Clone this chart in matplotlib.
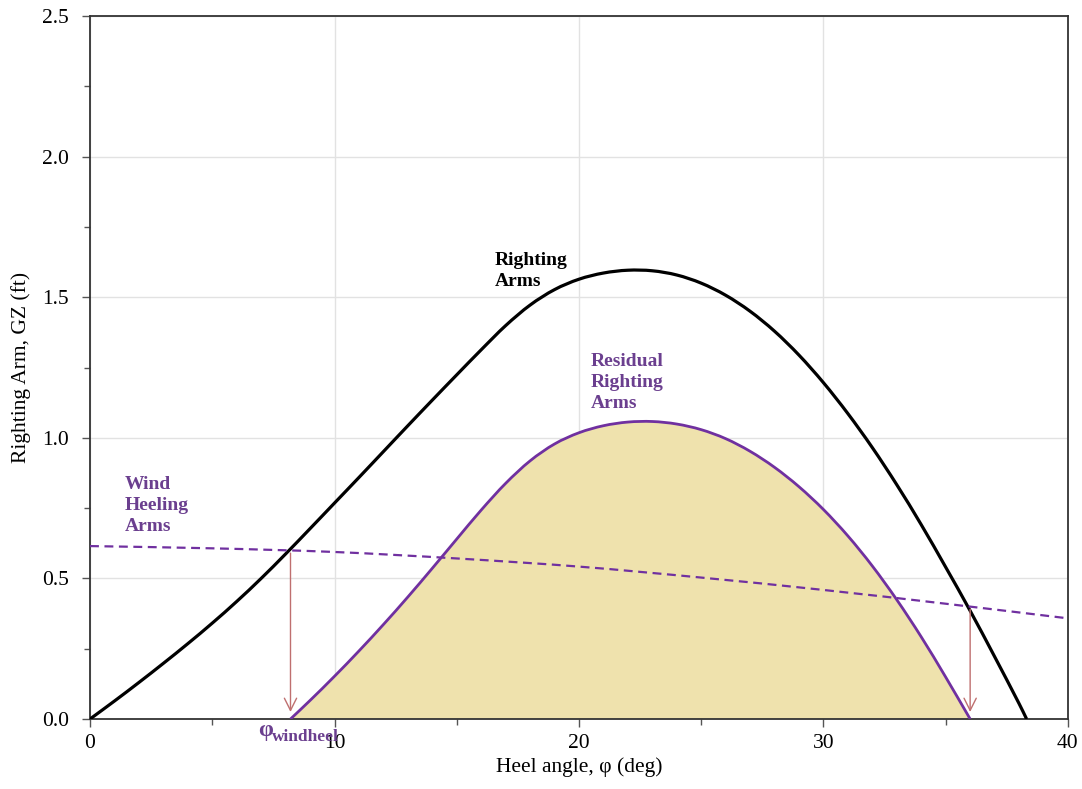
import numpy as np
import matplotlib.pyplot as plt
from matplotlib.path import Path
from matplotlib.patches import PathPatch

# righting arm curve at whole degrees
ra_x = [0, 1, 2, 3, 4, 5, 6, 7, 8, 9, 10, 11, 12, 13, 14, 15, 16, 17, 18, 19, 20,
        21, 22, 23, 24, 25, 26, 27, 28, 29, 30, 31, 32, 33, 34, 35, 36, 37, 38, 38.31]
ra_y = [0, 0.064, 0.130, 0.198, 0.268, 0.341, 0.418, 0.500, 0.587, 0.677, 0.768,
        0.859, 0.951, 1.043, 1.134, 1.224, 1.313, 1.399, 1.472, 1.527, 1.564,
        1.586, 1.596, 1.594, 1.579, 1.550, 1.507, 1.450, 1.379, 1.294, 1.196,
        1.086, 0.965, 0.833, 0.691, 0.540, 0.385, 0.222, 0.055, 0.0]

# wind heeling arm
wh_x = [0, 5, 10, 15, 20, 25, 30, 35, 40]
wh_y = [0.615, 0.607, 0.594, 0.571, 0.542, 0.503, 0.459, 0.410, 0.358]

# residual righting arm
rr_x = [8.2, 9, 10, 11, 12, 13, 14, 15, 16, 17, 18, 19, 20, 21, 22, 23, 24, 25,
        26, 27, 28, 29, 30, 31, 32, 33, 34, 35, 36]
rr_y = [0, 0.066, 0.152, 0.242, 0.336, 0.434, 0.536, 0.640, 0.743, 0.838, 0.918,
        0.978, 1.018, 1.043, 1.056, 1.058, 1.049, 1.029, 0.997, 0.952, 0.895,
        0.826, 0.745, 0.651, 0.544, 0.424, 0.292, 0.149, 0]

# equilibrium angles with arrow from wind line down to the axis
eq_x = [8.2, 36.0]
eq_top = [0.59, 0.39]

purple = '#7030a0'
txt_purple = '#6b3f8f'
plt.rcParams['font.family'] = ['Liberation Serif', 'DejaVu Serif']


def smooth_path(x, y, close=False):
    # smoothed line like the spreadsheet one: cubic segments through the points
    x = np.asarray(x, float)
    y = np.asarray(y, float)
    n = len(x)
    m = np.empty(n)
    m[0] = (y[1] - y[0]) / (x[1] - x[0])
    m[-1] = (y[-1] - y[-2]) / (x[-1] - x[-2])
    m[1:-1] = (y[2:] - y[:-2]) / (x[2:] - x[:-2])
    verts = [(x[0], y[0])]
    codes = [Path.MOVETO]
    for i in range(n - 1):
        h = x[i + 1] - x[i]
        verts += [(x[i] + h / 3, y[i] + m[i] * h / 3),
                  (x[i + 1] - h / 3, y[i + 1] - m[i + 1] * h / 3),
                  (x[i + 1], y[i + 1])]
        codes += [Path.CURVE4] * 3
    if close:
        verts.append((x[0], y[0]))
        codes.append(Path.CLOSEPOLY)
    return Path(verts, codes)


fig = plt.figure(figsize=(10.82, 7.89), dpi=100)
ax = fig.add_axes([0.0832, 0.0887, 0.9038, 0.891])

ax.add_patch(PathPatch(smooth_path(rr_x, rr_y, close=True), facecolor='#efe2ad',
                       edgecolor='none', zorder=1))
ax.add_patch(PathPatch(smooth_path(rr_x, rr_y), facecolor='none', edgecolor=purple,
                       lw=2.0, zorder=3))
ax.add_patch(PathPatch(smooth_path(ra_x, ra_y), facecolor='none', edgecolor='black',
                       lw=2.3, zorder=4))
ax.add_patch(PathPatch(smooth_path(wh_x, wh_y), facecolor='none', edgecolor=purple,
                       lw=1.6, ls=(0, (4, 2.5)), zorder=5))

for xx, yt in zip(eq_x, eq_top):
    ax.annotate('', xy=(xx, 0.025), xytext=(xx, yt),
                arrowprops=dict(arrowstyle='->', color='#bf6f6f', lw=1.0,
                                mutation_scale=22, shrinkA=0, shrinkB=0), zorder=6)

ax.text(16.55, 1.66, 'Righting\nArms', fontsize=14, fontweight='bold', color='black',
        va='top', ha='left', linespacing=1.3)
ax.text(20.48, 1.30, 'Residual\nRighting\nArms', fontsize=14, fontweight='bold',
        color=txt_purple, va='top', ha='left', linespacing=1.3)
ax.text(1.42, 0.865, 'Wind\nHeeling\nArms', fontsize=14, fontweight='bold',
        color=txt_purple, va='top', ha='left', linespacing=1.3)
ax.text(6.87, -0.002, 'φ', fontsize=17, fontweight='bold', color=txt_purple,
        va='top', ha='left')
ax.text(7.45, -0.036, 'windheel', fontsize=12.5, fontweight='bold', color=txt_purple,
        va='top', ha='left')

ax.set_xlim(0, 40)
ax.set_ylim(0, 2.5)
ax.set_xticks([0, 10, 20, 30, 40])
ax.set_xticks([5, 15, 25, 35], minor=True)
ax.set_yticks([0, 0.5, 1.0, 1.5, 2.0, 2.5])
ax.set_yticks([0.25, 0.75, 1.25, 1.75, 2.25], minor=True)
ax.set_yticklabels(['0.0', '0.5', '1.0', '1.5', '2.0', '2.5'])
ax.tick_params(which='both', direction='out', labelsize=15.5, width=1, color='#555555')
ax.tick_params(which='major', length=6)
ax.tick_params(axis='y', which='major', pad=9)
ax.tick_params(axis='x', which='major', pad=5)
ax.tick_params(which='minor', length=4)
ax.grid(True, which='major', color='#e2e2e2', lw=1)
ax.set_axisbelow(True)
for sp in ax.spines.values():
    sp.set_linewidth(1.3)
    sp.set_color('#333333')

ax.set_xlabel('Heel angle, φ (deg)', fontsize=15.5, labelpad=3)
ax.set_ylabel('Righting Arm, GZ (ft)', fontsize=15.5, labelpad=8)

fig.savefig('out.png', dpi=100)
